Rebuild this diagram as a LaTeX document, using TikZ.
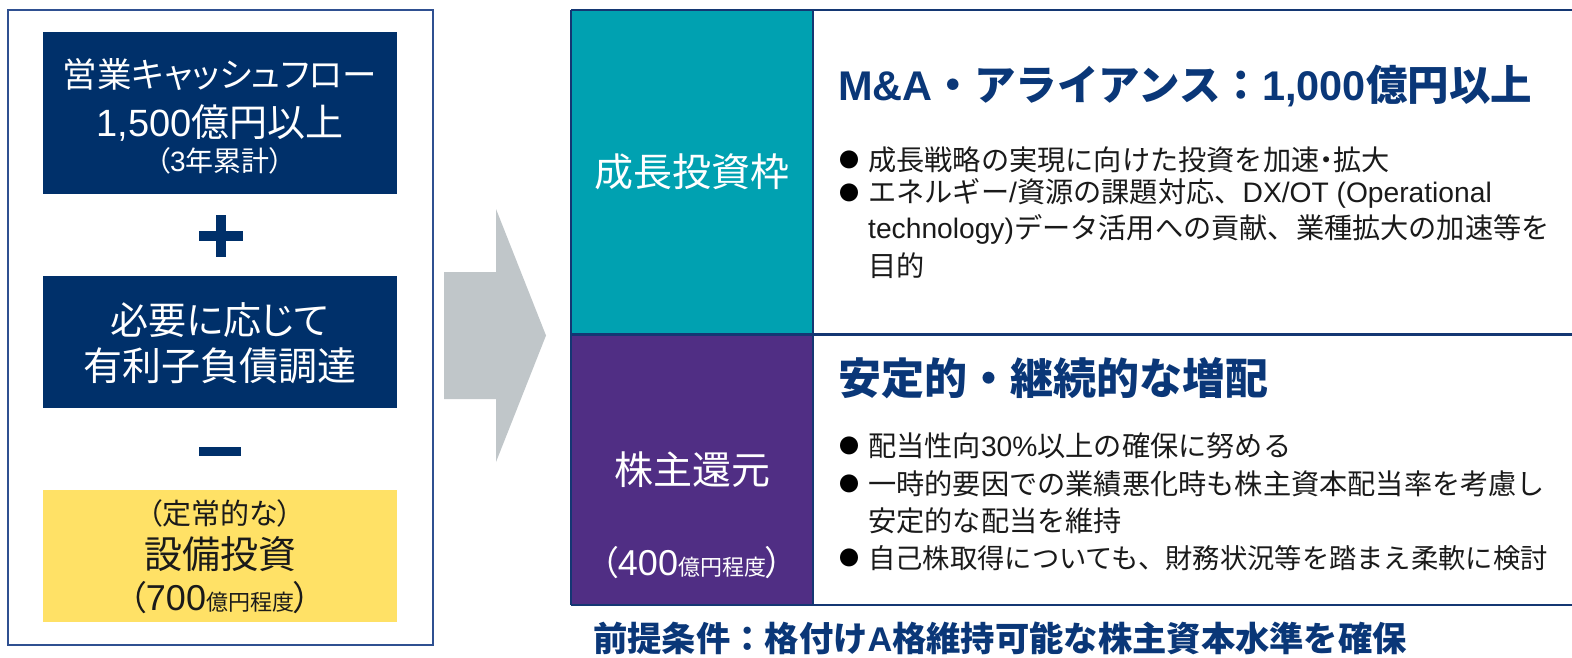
\documentclass[tikz,border=0pt]{standalone}
\usepackage{fontspec}
\setmainfont{Noto Sans CJK JP}
\newfontfamily\jpp{Noto Sans CJK JP}[RawFeature=+palt]
\newfontfamily\latf{Liberation Sans}
\newcommand\lt[1]{{\latf #1}}
\definecolor{navybox}{RGB}{0,48,106}
\definecolor{framec}{RGB}{47,80,145}
\definecolor{linec}{RGB}{20,55,115}
\definecolor{headc}{RGB}{10,55,120}
\definecolor{tealc}{RGB}{0,161,177}
\definecolor{purplec}{RGB}{80,46,132}
\definecolor{yellowc}{RGB}{255,225,102}
\definecolor{arrowc}{RGB}{192,198,201}
\definecolor{bodyc}{RGB}{26,26,26}
\newcommand\fs[1]{\fontsize{#1}{#1}\selectfont}
\tikzset{
  box/.style={anchor=north west, inner sep=0pt, outer sep=0pt},
  wtext/.style={text=white, inner sep=0pt, anchor=center},
  btext/.style={text=bodyc, inner sep=0pt, anchor=west, font=\fs{28.2}},
  bul/.style={text=black, inner sep=0pt, anchor=center, font=\fs{20}},
  head/.style={text=headc, inner sep=0pt, anchor=west},
}
\begin{document}
\begin{tikzpicture}[x=1pt,y=-1pt]
\useasboundingbox (0,0) rectangle (1572,657);
\fill[white] (0,0) rectangle (1572,657);

% ---- left panel
\node[box, draw=framec, line width=1.5pt, minimum width=425pt, minimum height=635pt] (outer) at (8,10) {};
\node[box, fill=navybox, minimum width=354pt, minimum height=162pt] (cf) at (43,32) {};
\node[box, fill=navybox, minimum width=354pt, minimum height=132pt] (debt) at (43,276) {};
\node[box, fill=yellowc, minimum width=354pt, minimum height=132pt] (capex) at (43,490) {};

\node[wtext, font=\jpp\fs{34.5}] (cf1) at (220,75) {営業キャッシュフロー};
\node[wtext, font=\jpp\fs{38}] (cf2) at (220,123) {\lt{1,500}億円以上};
\node[wtext, font=\jpp\fs{28}] (cf3) at (220,161) {（\lt{3}年累計）};

\node[wtext, font=\jpp\fs{38}] (d1) at (220,320) {必要に応じて};
\node[wtext, font=\jpp\fs{39}] (d2) at (220,366) {有利子負債調達};

\node[text=bodyc, inner sep=0pt, font=\jpp\fs{29}] (c1) at (220,513) {（定常的な）};
\node[text=bodyc, inner sep=0pt, font=\jpp\fs{38}] (c2) at (220,554) {設備投資};
\node[text=bodyc, inner sep=0pt, font=\jpp\fs{34}] (c3) at (220,598) {（\lt{\fs{36}700}{\fs{22}億円程度}）};

% plus and minus
\fill[navybox] (199,231) rectangle (243,241);
\fill[navybox] (216,215) rectangle (226,257);
\fill[navybox] (199,447) rectangle (241,456);

% ---- arrow
\fill[arrowc] (444,272) -- (496,272) -- (496,209) -- (546,335.5) -- (496,462) -- (496,399) -- (444,399) -- cycle;

% ---- right panel
\node[box, fill=tealc, minimum width=242pt, minimum height=324pt] (grow) at (571,10) {};
\node[box, fill=purplec, minimum width=242pt, minimum height=271pt] (ret) at (571,334) {};
\draw[linec, line width=1.5pt] (571,10) -- (1572,10);
\draw[linec, line width=1.5pt] (571,10) -- (571,605);
\draw[linec, line width=1.5pt] (813,10) -- (813,605);
\draw[linec, line width=1.5pt] (571,605) -- (1572,605);
\draw[linec, line width=3pt] (571,334.5) -- (1572,334.5);

\node[wtext, font=\jpp\fs{39}] (g1) at (692,172) {成長投資枠};
\node[wtext, font=\jpp\fs{39}] (r1) at (692,470) {株主還元};
\node[wtext, font=\jpp\fs{34}] (r2) at (692,563) {（\lt{\fs{36}400}{\fs{22}億円程度}）};

% headings
\node[head, font=\bfseries\fs{41.5}] (h1) at (838,86) {\lt{\bfseries M\&A}・アライアンス：\lt{\bfseries 1,000}億円以上};
\node[head, font=\bfseries\fs{43}] (h2) at (838,378) {安定的・継続的な増配};

% bullets block 1
\node[bul] (b11) at (849,160) {●};
\node[btext] (t11) at (868,160) {成長戦略の実現に向けた投資を加速{\jpp・}拡大};
\node[bul] (b12) at (849,193) {●};
\node[btext] (t12) at (868,193) {エネルギー\lt{/}資源の課題対応、\lt{DX/OT (Operational}};
\node[btext] (t13) at (868,229) {\lt{technology)}データ活用への貢献、業種拡大の加速等を};
\node[btext] (t14) at (868,266) {目的};

% bullets block 2
\node[bul] (b21) at (849,446) {●};
\node[btext] (t21) at (868,446) {配当性向\lt{30\%}以上の確保に努める};
\node[bul] (b22) at (849,484) {●};
\node[btext] (t22) at (868,484) {一時的要因での業績悪化時も株主資本配当率を考慮し};
\node[btext] (t23) at (868,521) {安定的な配当を維持};
\node[bul] (b24) at (849,558) {●};
\node[btext, font=\fs{27.3}] (t24) at (868,558) {自己株取得についても、財務状況等を踏まえ柔軟に検討};

% footer
\node[head, font=\bfseries\fs{34.3}] (foot) at (593,638) {前提条件：格付け\lt{\bfseries A}格維持可能な株主資本水準を確保};
\end{tikzpicture}
\end{document}
